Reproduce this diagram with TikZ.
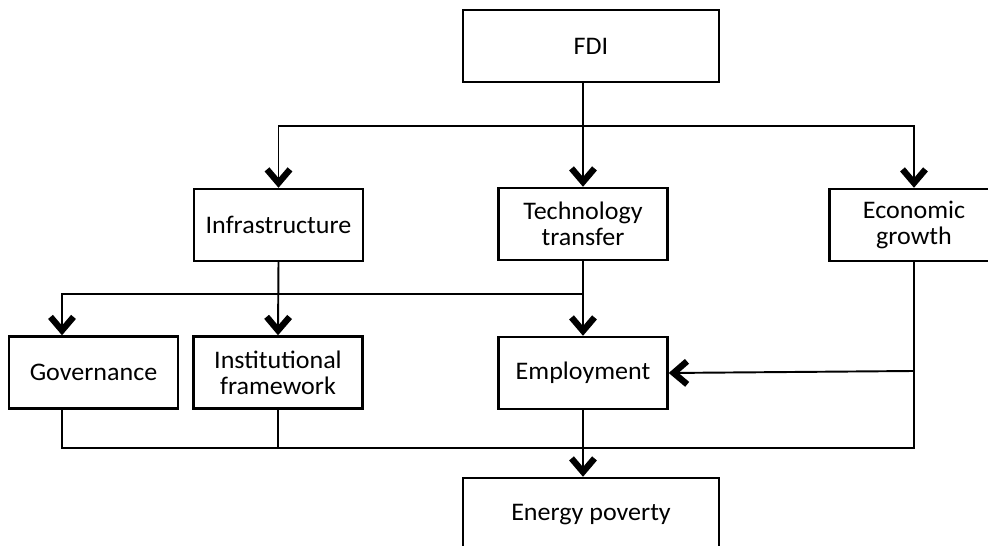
\documentclass[tikz,border=0pt]{standalone}
\usepackage{fontspec}
\setmainfont{Carlito}[FakeStretch=1.03]
\usetikzlibrary{arrows.meta}

\begin{document}
\begin{tikzpicture}[x=0.02cm,y=-0.02cm,
  box/.style={draw=black,line width=1.4pt,align=center,minimum width=3.38cm,minimum height=1.44cm,inner sep=2pt,font=\fontsize{14.4}{14.8}\selectfont},
  wide/.style={box,minimum width=5.12cm},
  link/.style={line width=1.1pt},
  feed/.style={link,-{Straight Barb[length=0.27cm,width=0.46cm,line width=3.6pt]}}]

\useasboundingbox (0,0) rectangle (988,546);
\clip (0,0) rectangle (988,546);

% Boxes
\node[wide] (fdi) at (591,46) {FDI};
\node[box] (infra) at (278.5,225) {Infrastructure};
\node[box] (tech) at (583,224) {Technology\\transfer};
\node[box] (econ) at (914,225) {Economic\\growth};
\node[box] (gov) at (93.5,372.5) {Governance};
\node[box] (inst) at (278,372.5) {Institutional\\framework};
\node[box] (empl) at (583,373) {Employment};
\node[wide,minimum height=1.48cm] (energy) at (591,515) {Energy poverty};

% Branch points
\coordinate (top) at (583,126);
\coordinate (mid) at (62,294);
\coordinate (low) at (62,448);
\coordinate (side) at (914,371);

% FDI to the first row
\draw[feed] (tech |- fdi.south) -- (tech.north);
\draw[feed] (top) -| (infra.north);
\draw[feed] (top) -| (econ.north);

% Second row
\draw[feed] (tech |- mid) -- (mid) -- (mid |- gov.north);
\draw[feed] (infra.south) -- (inst.north);
\draw[feed] (tech.south) -- (empl.north);
\draw[feed] (side) -- (empl.east);

% Down to energy poverty
\draw[link] (mid |- gov.south) |- (econ |- low) -- (econ.south);
\draw[link] (inst.south) -- (inst |- low);
\draw[feed] (empl.south) -- (empl.south |- energy.north);

\end{tikzpicture}
\end{document}
